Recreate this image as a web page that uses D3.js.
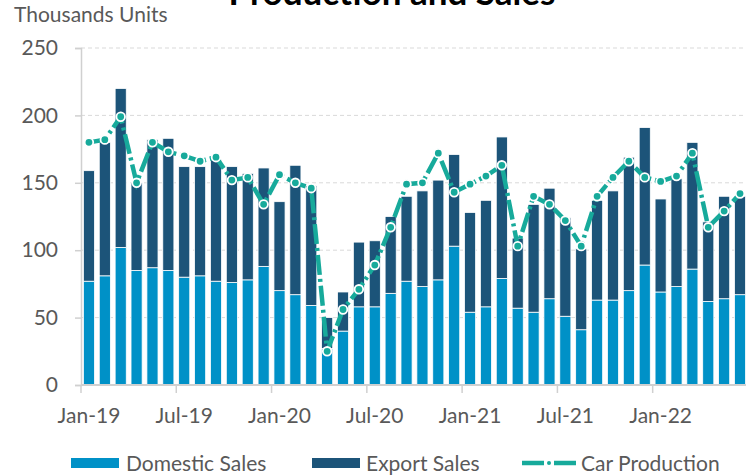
<!DOCTYPE html>
<html>
<head>
<meta charset="utf-8">
<script src="https://cdn.jsdelivr.net/npm/d3@7"></script>
<style>
  body { margin: 0; background: #fff; }
  #chart { width: 746px; height: 476px; overflow: hidden; }
  text { font-family: Lato, "Open Sans", sans-serif; }
</style>
</head>
<body>
<div id="chart"></div>
<script>
// months Jan-19 .. Jun-22
var months = ["Jan-19","Feb-19","Mar-19","Apr-19","May-19","Jun-19","Jul-19","Aug-19","Sep-19","Oct-19","Nov-19","Dec-19",
  "Jan-20","Feb-20","Mar-20","Apr-20","May-20","Jun-20","Jul-20","Aug-20","Sep-20","Oct-20","Nov-20","Dec-20",
  "Jan-21","Feb-21","Mar-21","Apr-21","May-21","Jun-21","Jul-21","Aug-21","Sep-21","Oct-21","Nov-21","Dec-21",
  "Jan-22","Feb-22","Mar-22","Apr-22","May-22","Jun-22"]

var domestic = [77,81,102,85,87,85,80,81,77,76,78,88,
  70,67,59,27,40,58,58,68,77,73,78,103,
  54,58,79,57,54,64,51,41,63,63,70,89,
  69,73,86,62,64,67]

var total = [159,180,220,150,182,183,162,162,167,162,157,161,
  136,163,148,50,69,106,107,125,140,144,152,171,
  128,137,184,109,134,146,124,101,137,144,169,191,
  138,153,180,121,140,140]

var production = [180,182,199,150,180,173,170,166,169,152,154,134,
  156,150,146,25,56,71,89,117,149,150,172,143,
  149,155,163,103,140,134,122,103,140,154,166,154,
  151,155,172,117,129,142]

var export_ = total.map((t, i) => t - domestic[i])

var yTicks = [0, 50, 100, 150, 200, 250]
var labelMonths = ["Jan-19","Jul-19","Jan-20","Jul-20","Jan-21","Jul-21","Jan-22"]

var colDom = "#0091c7", colExp = "#1c5479", colProd = "#17aa9b", grey = "#595959"
var fs = 21

var width = 746, height = 476

var svg = d3.select("#chart").append("svg")
    .attr("width", width)
    .attr("height", height)

var x = d3.scaleBand()
    .domain(months)
    .range([81, 81 + 42 * 15.88])
    .paddingInner(0.3)
    .paddingOuter(0.15)

var y = d3.scaleLinear()
    .domain([0, 250])
    .range([385, 48])

// gridlines
svg.append("g")
    .selectAll("line")
    .data(yTicks.filter(d => d > 0))
    .join("line")
    .attr("x1", 81).attr("x2", width)
    .attr("y1", d => y(d)).attr("y2", d => y(d))
    .attr("stroke", "#d9d9d9")
    .attr("stroke-dasharray", "4,3")

// y axis
var yAxis = svg.append("g")
    .attr("transform", "translate(81,0)")
    .call(d3.axisLeft(y).tickValues(yTicks).tickSize(6).tickPadding(17))
yAxis.select(".domain").attr("stroke", "#d0d0d0").attr("stroke-width", 1.5)
yAxis.selectAll(".tick line").attr("stroke", "#d0d0d0").attr("stroke-width", 1.5)
yAxis.selectAll(".tick text").attr("fill", grey).attr("font-size", fs)
    .style("font-family", "Lato, sans-serif")

// bars
var bars = svg.append("g")
bars.selectAll(".dom")
    .data(months)
    .join("rect")
    .attr("x", d => x(d))
    .attr("width", x.bandwidth())
    .attr("y", (d, i) => y(domestic[i]))
    .attr("height", (d, i) => y(0) - y(domestic[i]))
    .attr("fill", colDom)
    .attr("stroke", "#fff").attr("stroke-width", 0.8)
bars.selectAll(".exp")
    .data(months)
    .join("rect")
    .attr("x", d => x(d))
    .attr("width", x.bandwidth())
    .attr("y", (d, i) => y(total[i]))
    .attr("height", (d, i) => y(domestic[i]) - y(total[i]))
    .attr("fill", colExp)
    .attr("stroke", "#fff").attr("stroke-width", 0.8)

// x axis
var xAxis = svg.append("g")
    .attr("transform", "translate(0,385)")
    .call(d3.axisBottom(x).tickValues(labelMonths).tickSize(0).tickPadding(23))
xAxis.select(".domain").remove()
xAxis.selectAll(".tick text").attr("fill", grey).attr("font-size", fs)
    .style("font-family", "Lato, sans-serif")
svg.append("line")
    .attr("x1", 81).attr("x2", width)
    .attr("y1", 385).attr("y2", 385)
    .attr("stroke", "#d0d0d0").attr("stroke-width", 2)
svg.append("g")
    .selectAll("line")
    .data(months.filter((d, i) => i % 6 == 0))
    .join("line")
    .attr("x1", d => x(d) - x.step() * x.paddingInner() / 2)
    .attr("x2", d => x(d) - x.step() * x.paddingInner() / 2)
    .attr("y1", 385).attr("y2", 393)
    .attr("stroke", "#d0d0d0").attr("stroke-width", 1.5)

// production line
var line = d3.line()
    .x((d, i) => x(months[i]) + x.bandwidth() / 2)
    .y(d => y(d))

svg.append("path")
    .datum(production)
    .attr("fill", "none")
    .attr("stroke", colProd)
    .attr("stroke-width", 4.5)
    .attr("stroke-dasharray", "20,4,3,4")
    .attr("d", line)

svg.append("g")
    .selectAll("circle")
    .data(production)
    .join("circle")
    .attr("cx", (d, i) => x(months[i]) + x.bandwidth() / 2)
    .attr("cy", d => y(d))
    .attr("r", 4.3)
    .attr("fill", colProd)
    .attr("stroke", "#fff")
    .attr("stroke-width", 1.8)

// title (cut off at top, as in the source)
svg.append("text")
    .attr("x", 392).attr("y", 5)
    .attr("text-anchor", "middle")
    .attr("font-size", 35)
    .attr("font-weight", "bold")
    .attr("fill", "#000")
    .text("Production and Sales")

svg.append("text")
    .attr("x", 14).attr("y", 22)
    .attr("font-size", fs)
    .attr("fill", grey)
    .text("Thousands Units")

// legend
var leg = svg.append("g")
leg.append("rect").attr("x", 71).attr("y", 458).attr("width", 48).attr("height", 10).attr("fill", colDom)
leg.append("text").attr("x", 126).attr("y", 471).attr("font-size", fs).attr("fill", grey).text("Domestic Sales")
leg.append("rect").attr("x", 312).attr("y", 458).attr("width", 48).attr("height", 10).attr("fill", colExp)
leg.append("text").attr("x", 366).attr("y", 471).attr("font-size", fs).attr("fill", grey).text("Export Sales")
leg.append("line").attr("x1", 522).attr("x2", 544).attr("y1", 463).attr("y2", 463)
    .attr("stroke", colProd).attr("stroke-width", 4.5)
leg.append("line").attr("x1", 554).attr("x2", 576).attr("y1", 463).attr("y2", 463)
    .attr("stroke", colProd).attr("stroke-width", 4.5)
leg.append("circle").attr("cx", 549).attr("cy", 463).attr("r", 2)
    .attr("fill", colProd)
leg.append("text").attr("x", 581).attr("y", 471).attr("font-size", fs).attr("fill", grey).text("Car Production")
</script>
</body>
</html>
